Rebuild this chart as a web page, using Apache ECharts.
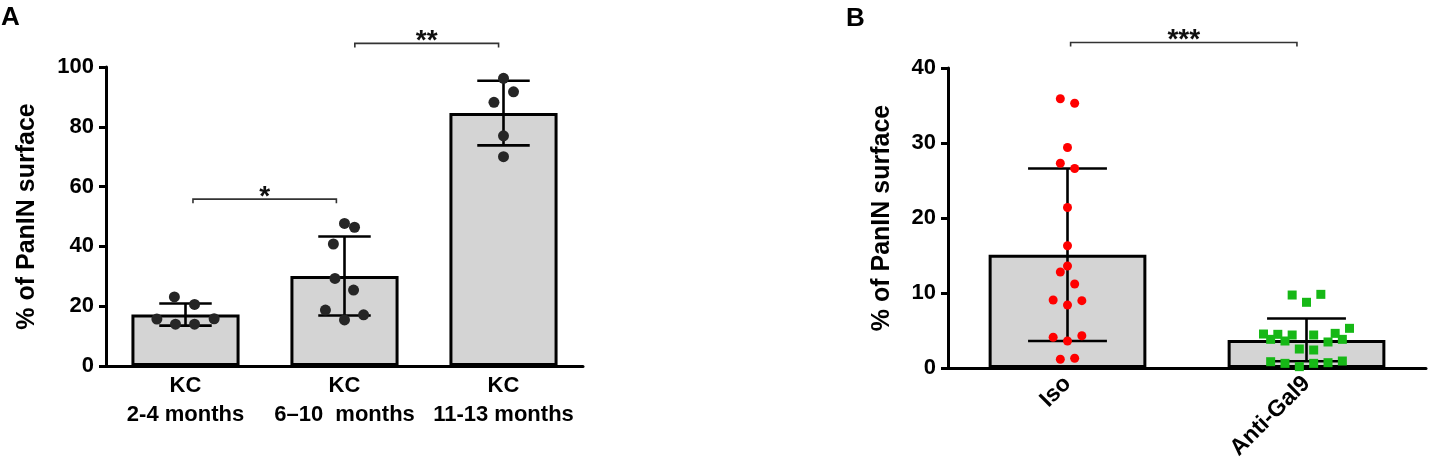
<!DOCTYPE html>
<html>
<head>
<meta charset="utf-8">
<script src="https://cdn.jsdelivr.net/npm/echarts@6/dist/echarts.min.js"></script>
<style>html,body{margin:0;padding:0;background:#fff}#c{width:1435px;height:473px}</style>
</head>
<body>
<div id="c"></div>
<script>
// ---------- Panel A data ----------
const catsA = ['KC\n2-4 months', 'KC\n6–10  months', 'KC\n11-13 months'];
const meansA = [17.2, 30.1, 84.6];
const sdA = [3.7, 13.2, 10.8];
const ptsA1 = [23.1, 20.6, 15.7, 15.8, 14.0, 14.0];
const jitA1 = [-0.07, 0.057, -0.18, 0.18, -0.063, 0.057];
const ptsA2 = [47.7, 46.4, 40.8, 29.3, 25.4, 18.7, 17.1, 15.4];
const jitA2 = [0, 0.063, -0.07, -0.06, 0.057, -0.12, 0.12, 0];
const ptsA3 = [96.2, 91.7, 88.2, 77.0, 70.0];
const jitA3 = [0, 0.063, -0.06, 0, 0];
const ticksA = [0, 20, 40, 60, 80, 100];
const sigA = [[0.047, 0.949, 55.8, '*'], [1.065, 1.969, 107.9, '**']];

// ---------- Panel B data ----------
const catsB = ['Iso', 'Anti-Gal9'];
const meansB = [15.1, 3.75];
const sdB = [11.5, 2.85];
const ptsIso = [35.9, 35.3, 29.4, 27.3, 26.6, 21.4, 16.3, 13.6, 12.8, 11.2, 9.07, 8.98, 8.4, 4.1, 4.3, 3.6, 1.16, 1.3];
const jitIso = [-0.03, 0.03, 0, -0.03, 0.03, 0, 0, 0, -0.03, 0.03, -0.06, 0.06, 0, -0.06, 0.06, 0, -0.03, 0.03];
const ptsGal = [9.73, 9.82, 8.76, 5.29, 4.53, 4.49, 4.4, 4.4, 4.62, 3.82, 3.6, 3.47, 3.82, 2.53, 2.4, 0.84, 0.62, 0.18, 0.62, 0.71, 0.93];
const jitGal = [-0.06, 0.06, 0, 0.18, -0.18, -0.12, -0.06, 0.03, 0.12, -0.15, -0.09, 0.09, 0.15, -0.03, 0.03, -0.15, -0.09, -0.03, 0.03, 0.09, 0.15];
const ticksB = [0, 10, 20, 30, 40];
const sigB = [[0.013, 0.96, 43.4, '***']];

const FONT = '"Liberation Sans", Arial, sans-serif';

function pts(vals, jit, idx) { return vals.map((v, i) => [idx + jit[i], v]); }

function errRender(params, api) {
  const c = api.value(0), m = api.value(1), s = api.value(2);
  const top = api.coord([c, m + s]);
  const bot = api.coord([c, m - s]);
  const half = api.size([1, 0])[0] * 0.165;
  const st = { stroke: '#000', lineWidth: 2.6 };
  return { type: 'group', children: [
    { type: 'line', shape: { x1: top[0], y1: top[1], x2: bot[0], y2: bot[1] }, style: st },
    { type: 'line', shape: { x1: top[0] - half, y1: top[1], x2: top[0] + half, y2: top[1] }, style: st },
    { type: 'line', shape: { x1: bot[0] - half, y1: bot[1], x2: bot[0] + half, y2: bot[1] }, style: st }
  ]};
}

const sigSource = { sigA: sigA, sigB: sigB };
function sigRender(params, api) {
  const p1 = api.coord([api.value(0), api.value(2)]);
  const p2 = api.coord([api.value(1), api.value(2)]);
  const lbl = sigSource[params.seriesName][params.dataIndex][3];
  return { type: 'group', children: [
    { type: 'polyline', shape: { points: [[p1[0], p1[1] + 4], [p1[0], p1[1]], [p2[0], p2[1]], [p2[0], p2[1] + 4]] },
      style: { stroke: '#333', lineWidth: 1.6, fill: null } },
    { type: 'text', x: (p1[0] + p2[0]) / 2, y: p1[1] + 12,
      style: { text: lbl, fontSize: 28, fontWeight: 'bold', fontFamily: FONT, fill: '#111', align: 'center', verticalAlign: 'bottom' } }
  ]};
}

const axisLbl = { color: '#000', fontWeight: 'bold', fontFamily: FONT };
function yAx(gi, max, interval, gap) {
  return {
    gridIndex: gi, type: 'value', min: 0, max: max, interval: interval,
    name: '% of PanIN surface', nameLocation: 'middle', nameGap: gap, nameRotate: 90,
    nameTextStyle: { color: '#000', fontWeight: 'bold', fontSize: 25, fontFamily: FONT },
    axisLine: { show: true, onZero: false, lineStyle: { color: '#000', width: 3 } },
    axisTick: { show: true, length: 7, lineStyle: { color: '#000', width: 3 } },
    axisLabel: Object.assign({ fontSize: 22, margin: 12 }, axisLbl),
    splitLine: { show: false }
  };
}

const option = {
  animation: false,
  graphic: [
    { type: 'text', left: 1, top: 5, style: { text: 'A', fontSize: 26, fontWeight: 'bold', fontFamily: FONT, fill: '#000' } },
    { type: 'text', left: 846, top: 6, style: { text: 'B', fontSize: 26, fontWeight: 'bold', fontFamily: FONT, fill: '#000' } }
  ],
  grid: [
    { left: 106, top: 67, width: 477, height: 299 },
    { left: 948, top: 68, width: 478, height: 300 }
  ],
  xAxis: [
    { gridIndex: 0, type: 'category', data: catsA,
      axisLine: { onZero: false, lineStyle: { color: '#000', width: 3 } },
      axisTick: { alignWithLabel: true, length: 6, lineStyle: { color: '#000', width: 2 } },
      axisLabel: Object.assign({ fontSize: 22, lineHeight: 29, margin: 5, interval: 0 }, axisLbl) },
    { gridIndex: 0, type: 'value', min: -0.5, max: 2.5, show: false },
    { gridIndex: 1, type: 'category', data: catsB,
      axisLine: { onZero: false, lineStyle: { color: '#000', width: 3 } },
      axisTick: { alignWithLabel: true, length: 6, lineStyle: { color: '#000', width: 2 } },
      axisLabel: Object.assign({ fontSize: 23, rotate: 45, margin: 12, interval: 0 }, axisLbl) },
    { gridIndex: 1, type: 'value', min: -0.5, max: 1.5, show: false }
  ],
  yAxis: [
    yAx(0, ticksA[ticksA.length - 1], ticksA[1] - ticksA[0], 66),
    yAx(1, ticksB[ticksB.length - 1], ticksB[1] - ticksB[0], 53)
  ],
  series: [
    { type: 'bar', xAxisIndex: 0, yAxisIndex: 0, data: meansA, barWidth: '68%', z: 2,
      itemStyle: { color: '#d4d4d4', borderColor: '#000', borderWidth: 3 } },
    { type: 'custom', xAxisIndex: 0, yAxisIndex: 0, z: 3, renderItem: errRender,
      data: meansA.map((m, i) => [i, m, sdA[i]]) },
    { type: 'scatter', xAxisIndex: 1, yAxisIndex: 0, z: 4, symbol: 'circle', symbolSize: 11,
      itemStyle: { color: '#262626', opacity: 1 },
      data: pts(ptsA1, jitA1, 0).concat(pts(ptsA2, jitA2, 1), pts(ptsA3, jitA3, 2)) },
    { type: 'custom', name: 'sigA', xAxisIndex: 1, yAxisIndex: 0, z: 5, clip: false, renderItem: sigRender,
      data: sigA.map(s => [s[0], s[1], s[2]]) },

    { type: 'bar', xAxisIndex: 2, yAxisIndex: 1, data: meansB, barWidth: '66%', z: 2,
      itemStyle: { color: '#d4d4d4', borderColor: '#000', borderWidth: 3 } },
    { type: 'custom', xAxisIndex: 2, yAxisIndex: 1, z: 3, renderItem: errRender,
      data: meansB.map((m, i) => [i, m, sdB[i]]) },
    { type: 'scatter', xAxisIndex: 3, yAxisIndex: 1, z: 4, symbol: 'circle', symbolSize: 9,
      itemStyle: { color: '#ff0000', opacity: 1 }, data: pts(ptsIso, jitIso, 0) },
    { type: 'scatter', xAxisIndex: 3, yAxisIndex: 1, z: 4, symbol: 'rect', symbolSize: 9,
      itemStyle: { color: '#16b816', opacity: 1 }, data: pts(ptsGal, jitGal, 1) },
    { type: 'custom', name: 'sigB', xAxisIndex: 3, yAxisIndex: 1, z: 5, clip: false, renderItem: sigRender,
      data: sigB.map(s => [s[0], s[1], s[2]]) }
  ]
};
echarts.init(document.getElementById('c')).setOption(option);
</script>
</body>
</html>
